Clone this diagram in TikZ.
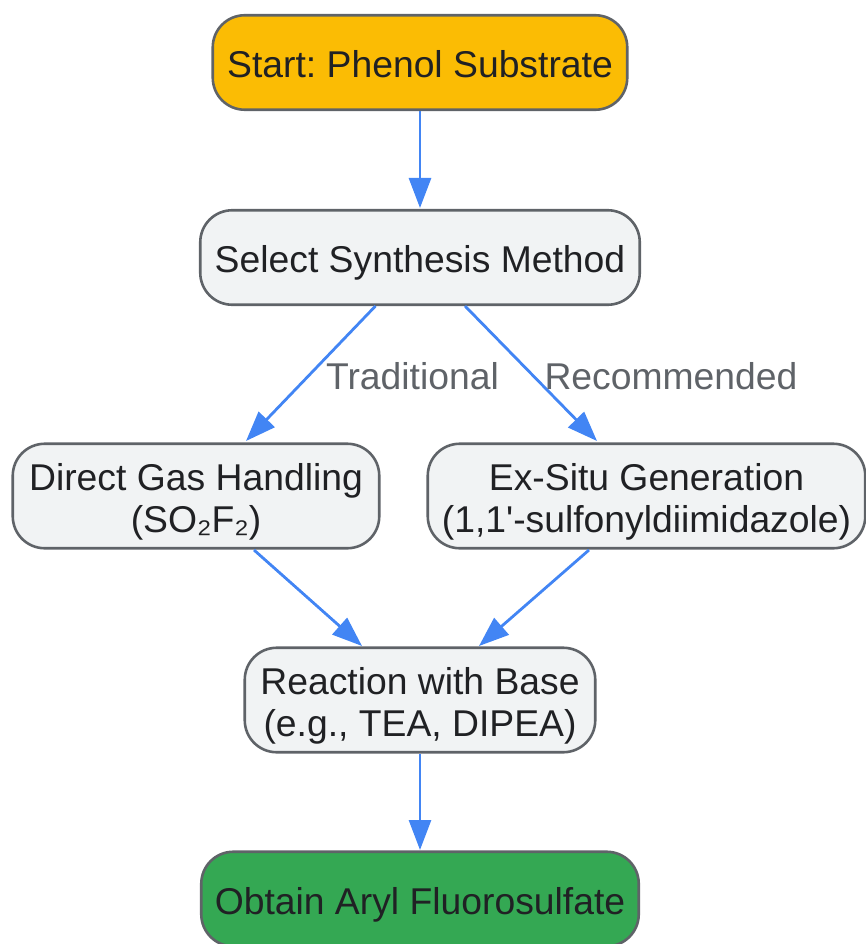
\documentclass[tikz,border=0pt]{standalone}
\usepackage{fontspec}
\setmainfont{Liberation Sans}[Ligatures=TeXOff]
\usetikzlibrary{arrows.meta}
\definecolor{edgeb}{HTML}{4285F4}
\definecolor{bord}{HTML}{5F6368}
\definecolor{txt}{HTML}{202124}
\definecolor{fillg}{HTML}{F1F3F4}
\definecolor{fillY}{HTML}{FBBC04}
\definecolor{fillG}{HTML}{34A853}
\frenchspacing
\tikzset{x=1pt,y=-1pt,
 box/.style={draw=bord,line width=2.6pt,text=txt,align=center,inner sep=0pt,anchor=center,rounded corners=32pt},
 lbl/.style={text=txt,font=\fontsize{37.3}{42}\selectfont,align=center,inner sep=0pt},
 conn/.style={draw=edgeb,line width=2.8pt,-{Triangle[length=30pt,width=22pt]}},
 elabel/.style={text=bord,font=\fontsize{37.3}{42}\selectfont,inner sep=0pt,fill=none}}
\begin{document}
\begin{tikzpicture}
\useasboundingbox (0,0) rectangle (865,944);
\node[box,fill=fillY,minimum width=414.5pt,minimum height=94.5pt] (start) at (420,62.5) {};
\node[lbl] (startl) at (420,64.5) {Start: Phenol Substrate};
\node[box,fill=fillg,minimum width=439.5pt,minimum height=94.5pt] (sel) at (420,257.5) {};
\node[lbl] (sell) at (420,263) {Select Synthesis Method};
\node[box,fill=fillg,minimum width=366.5pt,minimum height=104.5pt] (gas) at (196,496) {};
\node[lbl] (gasl) at (196,502) {Direct Gas Handling\\(SO₂F₂)};
\node[box,fill=fillg,minimum width=437.5pt,minimum height=104.5pt] (exs) at (646.5,496) {};
\node[lbl] (exsl) at (646.5,502) {Ex-Situ Generation\\(1,1'-sulfonyldiimidazole)};
\node[box,fill=fillg,minimum width=350.5pt,minimum height=104.5pt] (rea) at (420,700) {};
\node[lbl] (real) at (420,706) {Reaction with Base\\(e.g., TEA, DIPEA)};
\node[box,fill=fillG,minimum width=437.5pt,minimum height=94.5pt] (obt) at (420,899) {};
\node[lbl] (obtl) at (420,905) {Obtain Aryl Fluorosulfate};
\coordinate (s1) at (375.5,306);
\coordinate (s2) at (465,306);
\coordinate (e1) at (246,441);
\coordinate (e2) at (597,441);
\coordinate (g1) at (254,550);
\coordinate (x1) at (589,550);
\coordinate (r1) at (362,646);
\coordinate (r2) at (479,646);
\coordinate (v1) at (420,208);
\coordinate (v2) at (420,850);
\draw[conn] (start.south) -- (v1);
\draw[conn] (s1) -- (e1);
\draw[conn] (s2) -- (e2);
\draw[conn] (g1) -- (r1);
\draw[conn] (x1) -- (r2);
\draw[conn] (rea.south) -- (v2);
\node[elabel] (l1) at (412.5,376) {Traditional};
\node[elabel] (l2) at (671,376) {Recommended};
\end{tikzpicture}
\end{document}
